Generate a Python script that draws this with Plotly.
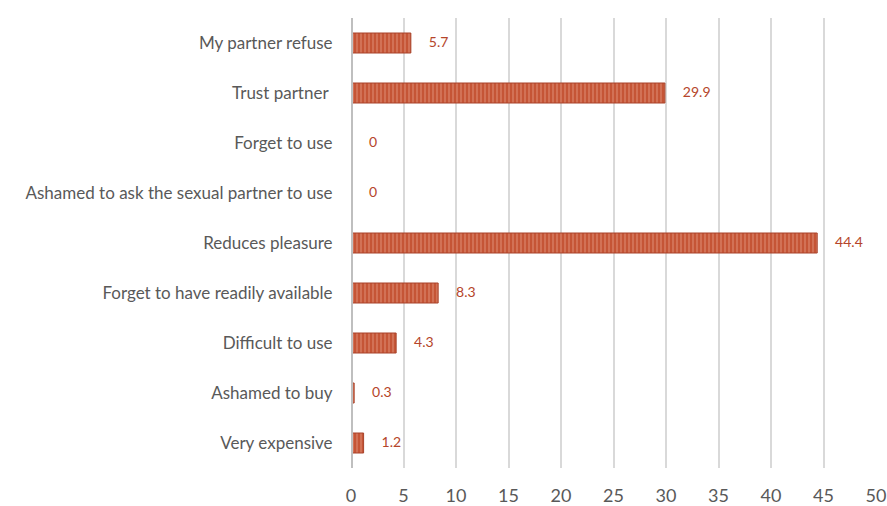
import plotly.graph_objects as go

# Reasons for not using condoms (%), top to bottom as shown
reasons = [
    'My partner refuse',
    'Trust partner ',
    'Forget to use',
    'Ashamed to ask the sexual partner to use',
    'Reduces pleasure',
    'Forget to have readily available',
    'Difficult to use',
    'Ashamed to buy',
    'Very expensive',
]
percent = [5.7, 29.9, 0, 0, 44.4, 8.3, 4.3, 0.3, 1.2]
x_ticks = [0, 5, 10, 15, 20, 25, 30, 35, 40, 45, 50]

fig = go.Figure()

# Striped bars
fig.add_trace(go.Bar(
    x=percent,
    y=reasons,
    orientation='h',
    marker=dict(
        color='#C55536',
        line=dict(color='#A8432A', width=1),
        pattern=dict(shape='|', fgcolor='#EBA690', bgcolor='#C55536',
                     size=4, solidity=0.35),
    ),
    width=0.4,
    showlegend=False,
    hoverinfo='skip',
))

# Data labels to the right of each bar
fig.add_trace(go.Scatter(
    x=percent,
    y=reasons,
    mode='text',
    text=['     ' + ('%g' % v) for v in percent],
    textposition='middle right',
    textfont=dict(family='Lato, sans-serif', size=14, color='#B5452A'),
    showlegend=False,
    hoverinfo='skip',
    cliponaxis=False,
))

fig.update_layout(
    width=887,
    height=506,
    margin=dict(l=351, r=11, t=18, b=38),
    plot_bgcolor='white',
    paper_bgcolor='white',
    font=dict(family='Lato, sans-serif', color='#595959'),
    xaxis=dict(
        range=[0, 50],
        tickvals=x_ticks,
        showgrid=True,
        gridcolor='#D9D9D9',
        gridwidth=2,
        zeroline=False,
        showline=False,
        automargin=False,
        ticks='outside',
        ticklen=11,
        tickcolor='rgba(0,0,0,0)',
        tickfont=dict(size=18, color='#595959'),
    ),
    yaxis=dict(
        autorange='reversed',
        showgrid=False,
        showline=False,
        zeroline=False,
        automargin=False,
        ticks='outside',
        ticklen=14,
        tickcolor='rgba(0,0,0,0)',
        tickfont=dict(size=17, color='#595959'),
    ),
)

# Heavier baseline at zero
fig.add_vline(x=0, line_color='#BFBFBF', line_width=4)

# drop the default page margin so the figure fills the window exactly
fig.write_html(
    "out.html",
    config={'displayModeBar': False},
    post_script="document.body.style.margin='0';document.body.style.overflow='hidden';",
)
